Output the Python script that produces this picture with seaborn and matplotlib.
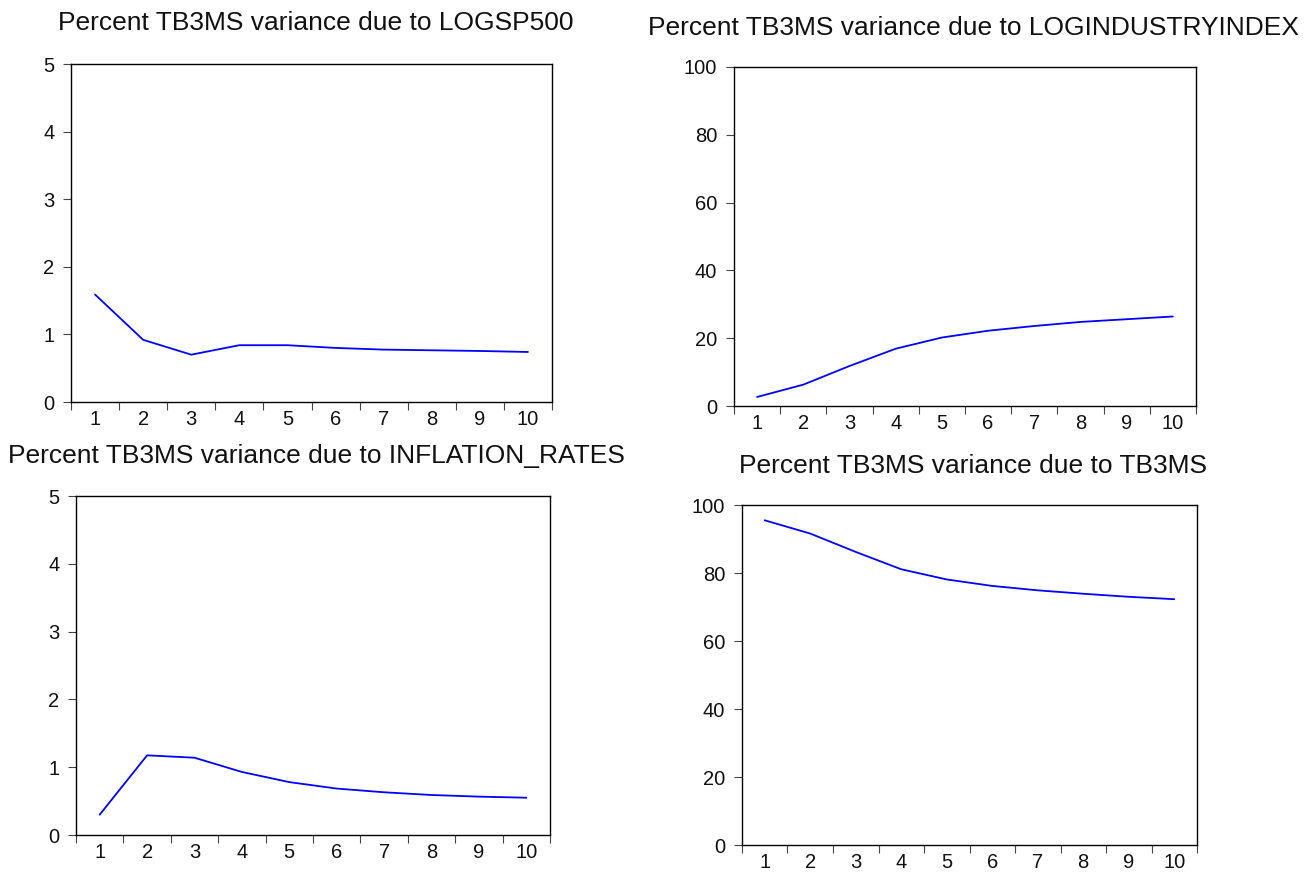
import matplotlib
matplotlib.use("Agg")
import matplotlib.pyplot as plt
import seaborn as sns
import numpy as np
import pandas as pd
from matplotlib.ticker import FixedLocator, NullFormatter, FixedFormatter

# Variance decomposition of TB3MS over a 10-period horizon
periods = [1, 2, 3, 4, 5, 6, 7, 8, 9, 10]
logsp500 = [1.59, 0.92, 0.70, 0.84, 0.84, 0.80, 0.775, 0.765, 0.755, 0.74]
logindustryindex = [2.66, 6.3, 11.8, 16.9, 20.2, 22.2, 23.6, 24.8, 25.6, 26.4]
inflation_rates = [0.30, 1.175, 1.14, 0.93, 0.78, 0.685, 0.63, 0.59, 0.566, 0.55]
tb3ms = [95.5, 91.6, 86.2, 81.1, 78.1, 76.2, 74.9, 73.9, 73.0, 72.3]

titles = [
    "Percent TB3MS variance due to LOGSP500",
    "Percent TB3MS variance due to LOGINDUSTRYINDEX",
    "Percent TB3MS variance due to INFLATION_RATES",
    "Percent TB3MS variance due to TB3MS",
]
series = [logsp500, logindustryindex, inflation_rates, tb3ms]
yticks = [[0, 1, 2, 3, 4, 5], [0, 20, 40, 60, 80, 100],
          [0, 1, 2, 3, 4, 5], [0, 20, 40, 60, 80, 100]]

sns.set_style("white")
plt.rcParams["font.family"] = ["Liberation Sans", "DejaVu Sans"]

W, H = 1306, 872
fig = plt.figure(figsize=(W / 100, H / 100), dpi=100)

# panel boxes in pixels: left, top, right, bottom
boxes = [(71, 64, 552, 402), (734, 67, 1196, 406),
         (76, 496, 550, 835), (742, 505, 1197, 845)]
# title anchors in pixels: left x, baseline y
title_pos = [(58, 30), (648, 35), (8, 463), (739, 473)]

for box, tpos, title, vals, yt in zip(boxes, title_pos, titles, series, yticks):
    l, t, r, b = box
    ax = fig.add_axes([l / W, 1 - b / H, (r - l) / W, (b - t) / H])
    df = pd.DataFrame({"period": periods, "value": vals})
    sns.lineplot(data=df, x="period", y="value", ax=ax, color="#0000ff",
                 linewidth=1.3)
    ax.set_xlim(0.5, 10.5)
    ax.set_ylim(yt[0], yt[-1])
    ax.set_xlabel("")
    ax.set_ylabel("")
    # boundary ticks between periods, labels centred on each period
    ax.xaxis.set_major_locator(FixedLocator(np.arange(0.5, 11, 1.0)))
    ax.xaxis.set_major_formatter(NullFormatter())
    ax.xaxis.set_minor_locator(FixedLocator(periods))
    ax.xaxis.set_minor_formatter(FixedFormatter([str(p) for p in periods]))
    ax.tick_params(axis="x", which="major", direction="out", length=6,
                   width=0.8, color="#444444", bottom=True)
    ax.tick_params(axis="x", which="minor", length=0, pad=6, labelsize=14.5,
                   bottom=True, labelcolor="#111111")
    ax.set_yticks(yt)
    ax.tick_params(axis="y", which="major", direction="out", length=6,
                   width=0.8, color="#444444", left=True, labelsize=14.5,
                   pad=6, labelcolor="#111111")
    for s in ax.spines.values():
        s.set_visible(True)
        s.set_color("black")
        s.set_linewidth(1.0)
    fig.text(tpos[0] / W, 1 - tpos[1] / H, title, ha="left", va="baseline",
             fontsize=19, color="#111111")

fig.savefig("out.png", dpi=100, facecolor="white")
